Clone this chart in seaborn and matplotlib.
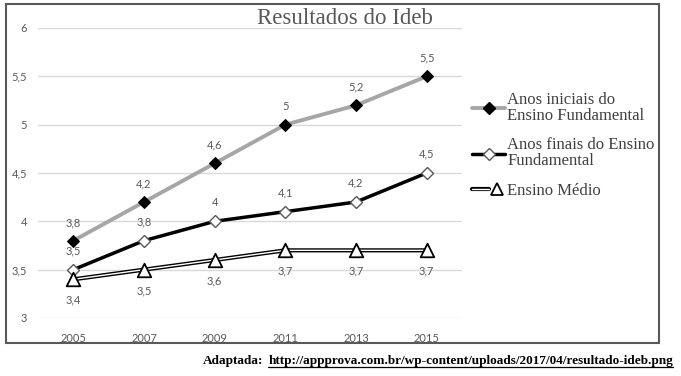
import numpy as np
import pandas as pd
import seaborn as sns
import matplotlib.pyplot as plt
import matplotlib.patheffects as pe
from matplotlib.lines import Line2D
from matplotlib.patches import Rectangle
from matplotlib.legend_handler import HandlerTuple

# ---- data ----
anos = [2005, 2007, 2009, 2011, 2013, 2015]
anos_iniciais = [3.8, 4.2, 4.6, 5.0, 5.2, 5.5]
anos_finais = [3.5, 3.8, 4.0, 4.1, 4.2, 4.5]
ensino_medio = [3.4, 3.5, 3.6, 3.7, 3.7, 3.7]
series_nomes = ["Anos iniciais do\nEnsino Fundamental",
                "Anos finais do Ensino\nFundamental",
                "Ensino Médio"]
y_ticks = [3, 3.5, 4, 4.5, 5, 5.5, 6]
titulo = "Resultados do Ideb"
fonte_label = "Adaptada:"
fonte_url = "http://appprova.com.br/wp-content/uploads/2017/04/resultado-ideb.png"

def fmt(v):
    s = ("%.1f" % v).rstrip("0").rstrip(".")
    return s.replace(".", ",")

sns.set_theme(style="white")
plt.rcParams['font.family'] = ['Lato', 'DejaVu Sans']

W, H = 681, 376
fig = plt.figure(figsize=(W / 100, H / 100), dpi=100)
ax = fig.add_axes([38 / W, 58 / H, 424 / W, 290 / H])

label_color = '#595959'

# series 1: gray line, black diamonds
sns.lineplot(x=anos, y=anos_iniciais, ax=ax, color='#a6a6a6', linewidth=2.8,
             marker='D', markersize=6.5, markerfacecolor='black',
             markeredgecolor='black', zorder=4)
# series 2: black line, white diamonds
sns.lineplot(x=anos, y=anos_finais, ax=ax, color='black', linewidth=2.5,
             marker='D', markersize=6.5, markerfacecolor='white',
             markeredgecolor='#595959', markeredgewidth=1.0, zorder=4)
# series 3: double line, white triangles
dbl = [pe.Stroke(linewidth=3.0, foreground='black'), pe.Normal()]
sns.lineplot(x=anos, y=ensino_medio, ax=ax, color='white', linewidth=1.0,
             path_effects=dbl, zorder=3)
sns.scatterplot(x=anos, y=ensino_medio, ax=ax, marker='^', s=95,
                color='white', edgecolor='black', linewidth=1.3, zorder=5)

lab_kw = dict(textcoords='offset points', ha='center', va='center',
              fontsize=8, color=label_color)
for x, v in zip(anos, anos_iniciais):
    ax.annotate(fmt(v), (x, v), xytext=(0, 13), **lab_kw)
for x, v in zip(anos, anos_finais):
    ax.annotate(fmt(v), (x, v), xytext=(0, 13.5), **lab_kw)
for x, v in zip(anos, ensino_medio):
    ax.annotate(fmt(v), (x, v), xytext=(0, -15), **lab_kw)

ax.set_xlim(2004, 2016)
ax.set_ylim(3, 6)
ax.set_xticks(anos)
ax.set_xticklabels([str(a) for a in anos])
ax.set_yticks(y_ticks)
ax.set_yticklabels([fmt(t) for t in y_ticks])
ax.tick_params(axis='both', length=0, labelsize=8, labelcolor=label_color)
ax.tick_params(axis='y', pad=8)
ax.tick_params(axis='x', pad=11)
ax.set_xlabel('')
ax.set_ylabel('')
ax.grid(axis='y', color='#d9d9d9', linewidth=1.0)
ax.grid(axis='x', visible=False)
ax.set_axisbelow(True)
for s in ax.spines.values():
    s.set_visible(False)
ax.set_facecolor('none')

# title
fig.text(345 / W, 1 - 19 / H, titulo, ha='center', va='center',
         fontsize=16.5, color='#595959', family=['Liberation Serif'])

# legend
h1 = Line2D([], [], color='#a6a6a6', lw=2.8, marker='D', markersize=6.5,
            markerfacecolor='black', markeredgecolor='black')
h2 = Line2D([], [], color='black', lw=2.5, marker='D', markersize=6.5,
            markerfacecolor='white', markeredgecolor='#595959', markeredgewidth=1.0)
h3a = Line2D([], [], color='white', lw=1.0, path_effects=dbl)
h3b = Line2D([], [], linestyle='none', marker='^', markersize=9,
             markerfacecolor='white', markeredgecolor='black', markeredgewidth=1.3)
leg = fig.legend([h1, h2, (h3a, h3b)], series_nomes,
                 handler_map={tuple: HandlerTuple(ndivide=None, pad=0)},
                 loc='upper left', bbox_to_anchor=(472 / W, 1 - 92 / H),
                 frameon=False, borderpad=0, borderaxespad=0,
                 handlelength=2.0, handletextpad=0.12, labelspacing=0.8,
                 prop={'family': 'Liberation Serif', 'size': 12})
for t in leg.get_texts():
    t.set_color('#404040')
    t.set_linespacing(1.0)

# outer frame
fig.patches.append(Rectangle((6 / W, 33 / H), 653 / W, 339 / H, fill=False,
                             edgecolor='#595959', linewidth=1.5,
                             transform=fig.transFigure, zorder=0))

# source line
ft = dict(fontsize=9.5, fontweight='bold', family=['Liberation Serif'],
          color='black', va='baseline')
url = fig.text(673 / W, 1 - 364 / H, fonte_url, ha='right', **ft)
fig.canvas.draw()
r = fig.canvas.get_renderer()
bb = url.get_window_extent(r)
lab = fig.text((bb.x0 - 5) / W, 1 - 364 / H, fonte_label, ha='right', **ft)
fig.add_artist(Line2D([bb.x0 / W, bb.x1 / W], [(bb.y0 + 0.3) / H] * 2,
                      color='black', lw=0.9, transform=fig.transFigure))

fig.savefig('out.png', dpi=100)
